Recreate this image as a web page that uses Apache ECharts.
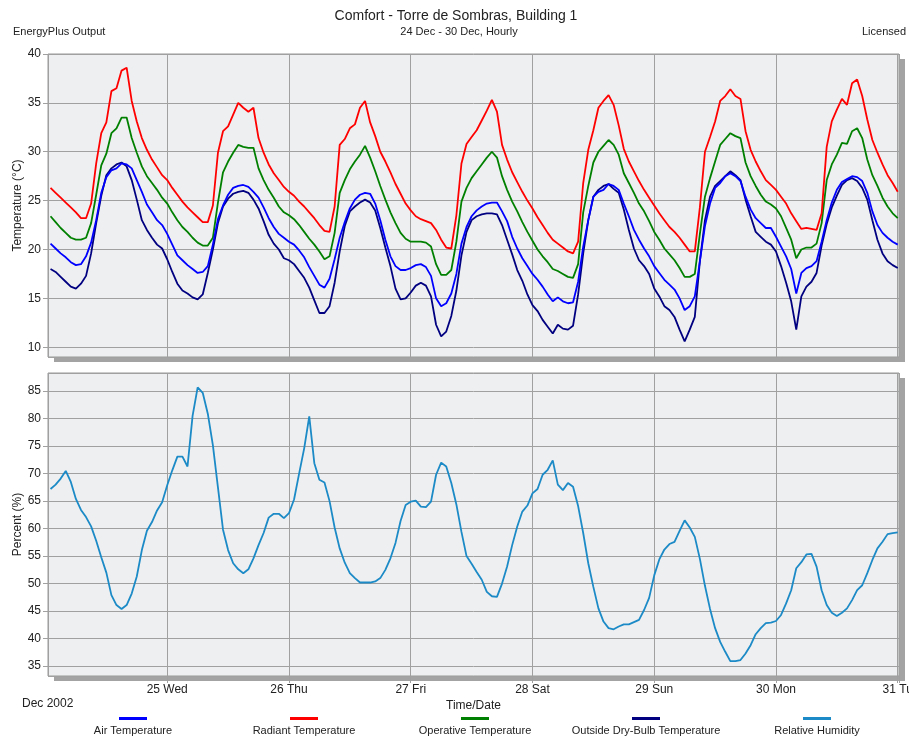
<!DOCTYPE html>
<html>
<head>
<meta charset="utf-8">
<title>Comfort - Torre de Sombras, Building 1</title>
<script src="https://cdn.jsdelivr.net/npm/echarts@6/dist/echarts.min.js"></script>
<style>
  html, body { margin: 0; padding: 0; background: #fff; }
  #chart { width: 909px; height: 738px; }
</style>
</head>
<body>
<div id="chart"></div>
<script>
// hourly values, 24 Dec 01:00 .. 31 Dec 00:00 (hour index 1..168)
const airTemp = [
  20.6, 20.1, 19.6, 19.2, 18.7, 18.4, 18.5, 19.3, 20.7, 23.0, 25.8, 27.4, 28.1, 28.3, 28.8, 28.7, 28.3, 27.1, 25.9, 24.6, 23.8, 23.0, 22.5, 21.6,
  20.5, 19.4, 18.9, 18.4, 18.0, 17.6, 17.7, 18.3, 20.5, 23.1, 24.5, 25.6, 26.3, 26.5, 26.6, 26.4, 25.9, 25.3, 24.3, 23.2, 22.3, 21.6, 21.2, 20.8,
  20.5, 19.9, 19.2, 18.2, 17.3, 16.4, 16.1, 17.0, 19.0, 21.2, 22.8, 24.2, 25.1, 25.6, 25.8, 25.7, 24.7, 23.0, 21.0, 19.3, 18.3, 17.9, 17.9, 18.1,
  18.4, 18.5, 18.2, 17.3, 15.0, 14.2, 14.5, 15.5, 17.5, 20.6, 22.3, 23.4, 24.0, 24.4, 24.7, 24.8, 24.8, 23.9, 22.9, 21.3, 20.1, 19.1, 18.3, 17.5,
  16.9, 16.2, 15.4, 14.7, 15.1, 14.7, 14.5, 14.6, 16.7, 20.3, 23.0, 25.4, 25.9, 26.1, 26.7, 26.5, 26.1, 24.7, 23.4, 22.0, 21.0, 20.1, 19.3, 18.3,
  17.6, 16.9, 16.4, 15.9, 15.0, 13.8, 14.2, 15.2, 18.8, 22.4, 24.7, 26.3, 26.8, 27.5, 27.8, 27.5, 27.0, 25.4, 24.1, 23.2, 22.7, 22.2, 22.2, 21.3,
  20.3, 19.3, 18.0, 15.5, 17.6, 18.1, 18.3, 18.8, 20.8, 23.0, 24.8, 26.1, 26.9, 27.2, 27.5, 27.4, 27.0, 25.8, 23.9, 22.5, 21.7, 21.2, 20.8, 20.5
];
const radiantTemp = [
  26.3, 25.8, 25.3, 24.8, 24.3, 23.8, 23.2, 23.2, 24.7, 28.8, 31.9, 33.0, 36.2, 36.5, 38.3, 38.6, 35.2, 33.1, 31.4, 30.2, 29.2, 28.4, 27.6, 27.1,
  26.3, 25.6, 24.9, 24.3, 23.8, 23.3, 22.8, 22.8, 24.5, 29.9, 32.1, 32.6, 33.8, 35.0, 34.5, 34.1, 34.5, 31.4, 29.9, 28.7, 27.8, 27.1, 26.4, 25.9,
  25.5, 24.9, 24.4, 23.8, 23.2, 22.5, 21.9, 21.8, 24.4, 30.7, 31.3, 32.4, 32.8, 34.5, 35.2, 33.0, 31.6, 30.0, 29.0, 27.9, 26.7, 25.7, 24.7, 24.0,
  23.4, 23.1, 22.9, 22.7, 22.0, 21.0, 20.2, 20.1, 23.5, 28.8, 30.8, 31.5, 32.2, 33.2, 34.2, 35.3, 34.1, 30.7, 29.2, 27.9, 26.9, 25.9, 25.0, 24.2,
  23.3, 22.5, 21.7, 21.0, 20.6, 20.2, 19.8, 19.6, 20.8, 26.8, 30.2, 32.2, 34.5, 35.2, 35.8, 34.8, 32.7, 30.3, 29.0, 28.0, 27.0, 26.1, 25.3, 24.5,
  23.7, 23.0, 22.3, 21.8, 21.2, 20.5, 19.8, 19.8, 24.3, 30.0, 31.5, 33.1, 35.2, 35.7, 36.4, 35.7, 35.4, 32.1, 30.2, 29.0, 28.0, 27.1, 26.6, 26.1,
  25.4, 24.7, 23.7, 22.9, 22.1, 22.2, 22.1, 22.0, 23.7, 30.5, 33.1, 34.3, 35.4, 34.8, 37.0, 37.4, 35.7, 33.3, 31.2, 29.9, 28.7, 27.6, 26.8, 25.9
];
const operativeTemp = [
  23.4, 22.8, 22.2, 21.7, 21.2, 21.0, 21.0, 21.2, 22.7, 25.6, 28.6, 29.8, 31.9, 32.4, 33.5, 33.5, 31.4, 29.9, 28.5, 27.5, 26.8, 26.1, 25.3, 24.7,
  23.8, 23.0, 22.3, 21.8, 21.2, 20.7, 20.4, 20.4, 21.2, 24.8, 27.9, 29.0, 29.9, 30.7, 30.5, 30.4, 30.4, 28.3, 27.1, 26.1, 25.3, 24.4, 23.8, 23.5,
  23.1, 22.5, 21.8, 21.1, 20.5, 19.8, 19.0, 19.3, 21.7, 25.8, 27.1, 28.2, 29.0, 29.7, 30.6, 29.4, 28.0, 26.5, 25.1, 23.8, 22.7, 21.7, 21.1, 20.8,
  20.8, 20.8, 20.7, 20.3, 18.5, 17.4, 17.4, 17.9, 20.8, 24.9, 26.3, 27.3, 28.0, 28.7, 29.4, 30.0, 29.4, 27.5, 26.1, 24.9, 23.9, 22.8, 21.8, 20.9,
  20.0, 19.3, 18.7, 18.0, 17.8, 17.5, 17.2, 17.1, 18.5, 23.8, 26.5, 28.9, 30.0, 30.6, 31.2, 30.7, 29.7, 27.8, 26.8, 25.8, 24.7, 23.9, 22.9, 21.8,
  21.0, 20.1, 19.5, 18.9, 18.1, 17.2, 17.2, 17.5, 21.6, 25.4, 27.3, 29.0, 30.7, 31.3, 31.9, 31.6, 31.4, 28.9, 27.5, 26.5, 25.6, 24.9, 24.6, 24.2,
  23.4, 22.2, 21.0, 19.1, 20.0, 20.2, 20.2, 20.6, 22.7, 27.1, 28.7, 29.7, 30.9, 30.8, 32.1, 32.4, 31.4, 29.2, 27.6, 26.5, 25.3, 24.4, 23.7, 23.2
];
const outsideTemp = [
  18.0, 17.7, 17.2, 16.7, 16.2, 16.0, 16.5, 17.3, 19.6, 22.7, 25.5, 27.6, 28.3, 28.7, 28.9, 28.5, 27.1, 25.1, 23.0, 22.0, 21.2, 20.5, 20.1, 19.0,
  17.7, 16.5, 15.8, 15.5, 15.1, 14.9, 15.4, 17.6, 20.0, 22.7, 24.4, 25.2, 25.7, 25.9, 26.0, 25.8, 25.1, 24.2, 22.9, 21.5, 20.6, 20.0, 19.1, 18.9,
  18.5, 17.8, 17.1, 16.1, 14.8, 13.5, 13.5, 14.2, 16.6, 19.8, 22.4, 23.9, 24.4, 24.8, 25.1, 24.8, 24.0, 22.2, 20.2, 18.3, 16.0, 14.9, 15.0, 15.6,
  16.3, 16.6, 16.3, 15.2, 12.3, 11.1, 11.6, 13.2, 15.8, 19.4, 21.8, 23.0, 23.4, 23.6, 23.7, 23.7, 23.6, 22.5, 21.0, 19.5, 17.9, 16.8, 15.4, 14.3,
  13.7, 12.8, 12.1, 11.4, 12.3, 11.9, 11.8, 12.2, 15.4, 19.6, 23.0, 25.4, 26.1, 26.5, 26.7, 26.2, 25.8, 24.1, 22.0, 20.1, 18.9, 18.3, 17.5, 16.0,
  15.2, 14.2, 13.8, 13.1, 11.8, 10.6, 11.8, 13.1, 18.8, 23.0, 25.4, 26.5, 27.0, 27.5, 28.0, 27.6, 27.1, 25.1, 23.4, 21.8, 21.3, 20.8, 20.5, 19.8,
  18.3, 16.6, 14.7, 11.8, 15.2, 16.2, 16.7, 17.6, 20.4, 22.6, 24.3, 25.5, 26.6, 27.1, 27.3, 27.0, 26.3, 25.1, 23.0, 21.0, 19.6, 18.8, 18.4, 18.1
];
const relHumidity = [
  67.2, 68.0, 69.1, 70.5, 68.5, 65.4, 63.4, 62.1, 60.4, 57.8, 54.8, 52.0, 47.9, 46.1, 45.4, 46.1, 48.2, 51.3, 56.1, 59.6, 61.2, 63.3, 64.8, 67.9,
  70.6, 73.1, 73.1, 71.3, 80.5, 85.7, 84.7, 80.9, 75.2, 67.5, 59.8, 56.1, 53.7, 52.6, 51.9, 52.6, 54.6, 57.0, 59.2, 62.0, 62.7, 62.7, 61.9, 62.8,
  65.3, 70.0, 74.6, 80.4, 71.9, 68.9, 68.4, 65.0, 60.2, 56.4, 53.8, 51.9, 51.0, 50.2, 50.2, 50.2, 50.4, 51.0, 52.5, 54.6, 57.4, 61.4, 64.3, 64.9,
  65.1, 64.0, 63.9, 64.9, 69.8, 72.0, 71.3, 68.3, 64.4, 59.4, 55.0, 53.6, 52.1, 50.7, 48.5, 47.7, 47.6, 50.0, 53.1, 57.0, 60.4, 63.1, 64.2, 66.4,
  67.2, 69.8, 70.7, 72.4, 68.0, 67.0, 68.3, 67.6, 64.1, 59.2, 53.7, 49.4, 45.5, 43.1, 41.9, 41.7, 42.2, 42.6, 42.6, 43.0, 43.4, 45.2, 47.4, 51.5,
  54.4, 56.2, 57.2, 57.6, 59.6, 61.5, 60.2, 58.5, 54.5, 49.6, 45.4, 41.9, 39.4, 37.6, 35.9, 35.9, 36.1, 37.3, 38.8, 40.8, 41.9, 42.8, 42.9, 43.2,
  44.3, 46.4, 48.8, 52.8, 53.9, 55.3, 55.4, 53.1, 48.8, 46.1, 44.7, 44.1, 44.7, 45.5, 47.0, 48.8, 49.7, 51.9, 54.3, 56.4, 57.6, 59.0, 59.2, 59.3
];

const seriesNames = ['Air Temperature', 'Radiant Temperature', 'Operative Temperature', 'Outside Dry-Bulb Temperature', 'Relative Humidity'];
const seriesColors = ['#0000ff', '#ff0000', '#008000', '#000080', '#1b8ac6'];
const dayLabels = ['25 Wed', '26 Thu', '27 Fri', '28 Sat', '29 Sun', '30 Mon', '31 Tu'];

const FONT = '"Liberation Sans", Arial, sans-serif';
const TEXT = '#222';
const GRIDLINE = '#a0a0a0';

const PLOT_LEFT = 48;
const PLOT_WIDTH = 851;
const PLOT_HEIGHT = 303;
const PLOT_TOPS = [54, 373];

function toPairs(values) {
  return values.map((v, i) => [i + 1, v]);
}

function dayFormatter(value) {
  if (value % 24 !== 0) return '';
  return dayLabels[value / 24 - 1] || '';
}

function gridAt(top) {
  return {
    show: true,
    left: PLOT_LEFT,
    top: top,
    width: PLOT_WIDTH,
    height: PLOT_HEIGHT,
    backgroundColor: '#eeeff0',
    borderColor: '#999',
    borderWidth: 1,
    outerBoundsMode: 'none'
  };
}

function xAxisFor(gridIndex, withLabels) {
  return {
    type: 'value',
    gridIndex: gridIndex,
    min: 0.5,
    max: 168.25,
    minInterval: 24,
    maxInterval: 24,
    axisLine: { show: false },
    axisTick: { show: withLabels, length: 7, lineStyle: { color: GRIDLINE } },
    axisLabel: {
      show: withLabels, formatter: dayFormatter, margin: 8,
      fontSize: 12, color: TEXT, fontFamily: FONT,
      showMinLabel: false, hideOverlap: false
    },
    splitLine: { show: true, lineStyle: { color: GRIDLINE, width: 1 } },
    name: withLabels ? 'Time/Date' : '',
    nameLocation: 'middle',
    nameGap: 24,
    nameMoveOverlap: false,
    nameTextStyle: { fontSize: 12, color: TEXT, fontFamily: FONT }
  };
}

function yAxisFor(gridIndex, name, min, max) {
  return {
    type: 'value',
    gridIndex: gridIndex,
    min: min,
    max: max,
    minInterval: 5,
    maxInterval: 5,
    name: name,
    nameLocation: 'middle',
    nameGap: 24,
    nameMoveOverlap: false,
    nameTextStyle: { fontSize: 12, color: TEXT, fontFamily: FONT },
    axisLine: { show: false },
    axisTick: { show: true, length: 5, lineStyle: { color: GRIDLINE } },
    axisLabel: {
      fontSize: 12, color: TEXT, fontFamily: FONT, margin: 7,
      showMinLabel: false, showMaxLabel: max % 5 === 0,
      formatter: v => (v % 5 === 0 ? String(v) : '')
    },
    splitLine: { show: true, lineStyle: { color: GRIDLINE, width: 1 } }
  };
}

const tempSeries = [airTemp, radiantTemp, operativeTemp, outsideTemp];

const series = tempSeries.map((vals, i) => ({
  name: seriesNames[i],
  type: 'line',
  xAxisIndex: 0,
  yAxisIndex: 0,
  data: toPairs(vals),
  showSymbol: false,
  symbol: 'none',
  lineStyle: { color: seriesColors[i], width: 1.8 },
  itemStyle: { color: seriesColors[i] },
  z: 10 - i,
  animation: false
}));
series.push({
  name: seriesNames[4],
  type: 'line',
  xAxisIndex: 1,
  yAxisIndex: 1,
  data: toPairs(relHumidity),
  showSymbol: false,
  symbol: 'none',
  lineStyle: { color: seriesColors[4], width: 1.8 },
  itemStyle: { color: seriesColors[4] },
  animation: false
});

// drop shadow behind each plot panel
const shadowGraphics = PLOT_TOPS.map(top => ({
  type: 'rect',
  shape: { x: PLOT_LEFT + 6, y: top + 5, width: PLOT_WIDTH, height: PLOT_HEIGHT },
  style: { fill: '#a3a3a3' },
  z: -10,
  silent: true
}));

// legend: sample line above the label, as in the EnergyPlus chart
const legendGraphics = [];
seriesNames.forEach((name, i) => {
  const cx = 133 + i * 171;
  legendGraphics.push({
    type: 'line',
    shape: { x1: cx - 14, y1: 718.5, x2: cx + 14, y2: 718.5 },
    style: { stroke: seriesColors[i], lineWidth: 3 },
    silent: true
  });
  legendGraphics.push({
    type: 'text',
    x: cx,
    y: 731,
    style: { text: name, textAlign: 'center', textVerticalAlign: 'middle', fontSize: 11, fill: TEXT, fontFamily: FONT },
    silent: true
  });
});

const headerText = (text, x, y, align, size) => ({
  type: 'text',
  x: x,
  y: y,
  style: { text: text, textAlign: align, textVerticalAlign: 'middle', fontSize: size, fill: TEXT, fontFamily: FONT },
  silent: true
});

const chart = echarts.init(document.getElementById('chart'), null, { renderer: 'canvas' });
chart.setOption({
  backgroundColor: '#ffffff',
  animation: false,
  textStyle: { fontFamily: FONT },
  grid: PLOT_TOPS.map(gridAt),
  xAxis: [xAxisFor(0, false), xAxisFor(1, true)],
  yAxis: [
    yAxisFor(0, 'Temperature (°C)', 9, 40),
    yAxisFor(1, 'Percent (%)', 33.2, 88.3)
  ],
  series: series,
  graphic: shadowGraphics.concat([
    headerText('Comfort - Torre de Sombras, Building 1', 456, 16, 'center', 14),
    headerText('EnergyPlus Output', 13, 32, 'left', 11),
    headerText('24 Dec - 30 Dec, Hourly', 459, 32, 'center', 11),
    headerText('Licensed', 906, 32, 'right', 11),
    headerText('Dec 2002', 22, 704, 'left', 12)
  ], legendGraphics)
});
</script>
</body>
</html>
